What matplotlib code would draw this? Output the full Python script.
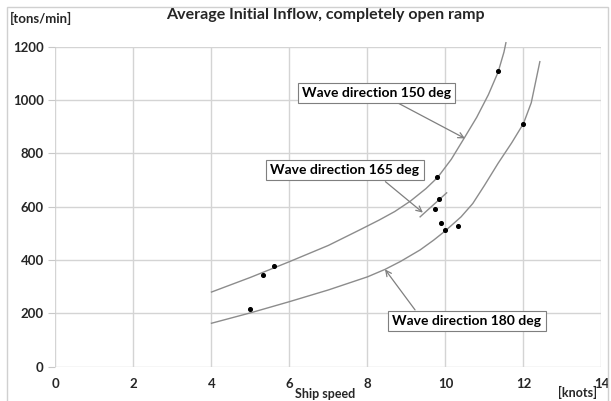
import matplotlib.pyplot as plt
from matplotlib.patches import Rectangle

plt.rcParams['font.family'] = ['Lato', 'DejaVu Sans']

# pontos medidos (ship speed [knots], inflow [tons/min])
speed_pts = [4.99, 5.32, 5.60, 9.77, 9.83, 9.73, 9.88, 9.99, 10.31, 11.35, 11.98]
inflow_pts = [216, 344, 378, 710, 628, 591, 540, 513, 528, 1110, 909]

# linhas de tendência
x150 = [4.0, 5.0, 6.0, 7.0, 7.8, 8.3, 8.7, 9.1, 9.5, 9.8, 10.15, 10.5, 10.8, 11.1, 11.35, 11.5, 11.55]
y150 = [280, 335, 394, 455, 513, 550, 582, 621, 668, 710, 778, 862, 935, 1020, 1105, 1180, 1215]
x165 = [9.35, 10.03]
y165 = [562, 652]
x180 = [4.0, 5.0, 6.0, 7.0, 8.0, 8.45, 8.85, 9.35, 9.7, 10.0, 10.4, 10.7, 11.0, 11.35, 11.7, 12.0, 12.2, 12.42]
y180 = [163, 202, 244, 288, 337, 365, 395, 438, 475, 510, 562, 612, 680, 763, 840, 912, 990, 1144]

xticks = [0, 2, 4, 6, 8, 10, 12, 14]
yticks = [0, 200, 400, 600, 800, 1000, 1200]

fig = plt.figure(figsize=(6.11, 4.01), dpi=100)
ax = fig.add_axes([0.0908, 0.0855, 0.8936, 0.798])

ax.plot(x150, y150, color='#8c8c8c', lw=1.0, clip_on=False)
ax.plot(x165, y165, color='#8c8c8c', lw=1.0)
ax.plot(x180, y180, color='#8c8c8c', lw=1.0)
ax.scatter(speed_pts, inflow_pts, s=7, color='black', zorder=3)

ax.set_xlim(0, 14)
ax.set_ylim(0, 1200)
ax.set_xticks(xticks)
ax.set_yticks(yticks)
ax.grid(True, color='#d4d4d4', lw=1.0)
ax.set_axisbelow(True)
for s in ax.spines.values():
    s.set_visible(False)
ax.tick_params(axis='both', colors='#c8c8c8', labelcolor='#262626', labelsize=9.5, length=5)
ax.tick_params(axis='x', length=0, pad=8)
for lab in ax.get_xticklabels() + ax.get_yticklabels():
    lab.set_fontweight('bold')

# caixas de texto com setas
box = dict(boxstyle='square,pad=0.3', fc='white', ec='#7f7f7f', lw=0.8)
arrow = dict(arrowstyle='->', color='#7f7f7f', lw=0.9, shrinkA=0, shrinkB=0)
ax.annotate('Wave direction 150 deg', xy=(10.50, 856), xytext=(8.24, 1026),
            ha='center', va='center', fontsize=10, fontweight='bold', bbox=box, zorder=4)
ax.annotate('', xy=(10.50, 856), xytext=(8.78, 989), arrowprops=arrow)
ax.annotate('Wave direction 165 deg', xy=(9.42, 578), xytext=(7.42, 737),
            ha='center', va='center', fontsize=10, fontweight='bold', bbox=box, zorder=4)
ax.annotate('', xy=(9.42, 578), xytext=(8.46, 694), arrowprops=arrow)
ax.annotate('Wave direction 180 deg', xy=(8.45, 365), xytext=(10.55, 171),
            ha='center', va='center', fontsize=10, fontweight='bold', bbox=box, zorder=4)
ax.annotate('', xy=(8.45, 365), xytext=(9.22, 213), arrowprops=arrow)

fig.text(0.532, 0.963, 'Average Initial Inflow, completely open ramp', ha='center', va='center',
         fontsize=11.5, fontweight='bold', color='#262626')
fig.text(0.016, 0.955, '[tons/min]', ha='left', va='center', fontsize=9.5, fontweight='bold', color='#262626')
fig.text(0.532, 0.018, 'Ship speed', ha='center', va='center', fontsize=9, fontweight='bold', color='#262626')
fig.text(0.945, 0.022, '[knots]', ha='center', va='center', fontsize=9, fontweight='bold', color='#262626')

# moldura do gráfico
fig.patches.append(Rectangle((7 / 611, -0.01), 601 / 611, (401 - 7) / 401 + 0.01, transform=fig.transFigure,
                             fill=False, ec='#d0d0d0', lw=1.0))

fig.savefig('out.png', dpi=100)
